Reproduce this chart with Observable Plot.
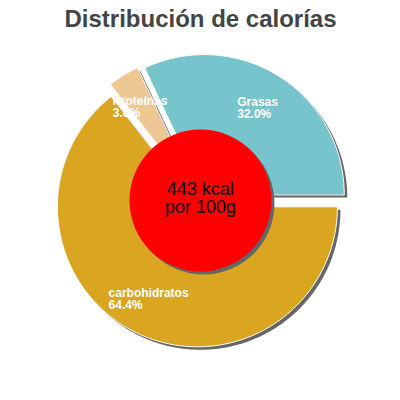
<!DOCTYPE html>
<html><head><meta charset="utf-8">
<script src="https://cdn.jsdelivr.net/npm/d3@7"></script>
<script src="https://cdn.jsdelivr.net/npm/@observablehq/plot@0.6"></script>
<style>body{margin:0;background:#fff}</style>
</head><body><div id="chart"></div>
<script>
const title = "Distribución de calorías";
const categories = ["carbohidratos", "Proteínas", "Grasas"];
const values = [64.4, 3.6, 32.0];
const colors = ["#daa520", "#eec894", "#78c4cc"];
const centerLines = ["443 kcal", "por 100g"];

const FONT = "Liberation Sans, Arial, sans-serif";
const xRange = [60, 340], yRange = [340, 60];
const pxPerUnit = (xRange[1] - xRange[0]) / 2;
const explode = 0.05, labelR = 0.735, letterSp = 0.6;

const pie = d3.pie().sort(null).startAngle(Math.PI / 2).endAngle(Math.PI / 2 + 2 * Math.PI)(values);

const slices = [];
const labels = [];
const ctx = document.createElement("canvas").getContext("2d");
ctx.font = "bold 12px " + FONT;
pie.forEach((p, i) => {
  const mid = (p.startAngle + p.endAngle) / 2;
  const ox = explode * Math.sin(mid), oy = explode * Math.cos(mid);
  slices.push({name: categories[i], x: ox, y: oy});
  const n = Math.max(2, Math.ceil((p.endAngle - p.startAngle) / (Math.PI / 180)));
  for (let k = 0; k <= n; k++) {
    const a = p.startAngle + (p.endAngle - p.startAngle) * k / n;
    slices.push({name: categories[i], x: ox + Math.sin(a), y: oy + Math.cos(a)});
  }
  const lines = [categories[i], values[i].toFixed(1) + "%"];
  const w = d3.max(lines, s => ctx.measureText(s).width + s.length * letterSp);
  const r = explode + labelR;
  labels.push({
    text: lines.join("\n"),
    x: r * Math.sin(mid) - (w / 2) / pxPerUnit,
    y: r * Math.cos(mid)
  });
});

const chart = Plot.plot({
  width: 400, height: 400, margin: 0,
  style: {fontFamily: FONT, background: "#fff"},
  x: {domain: [-1, 1], range: xRange, axis: null},
  y: {domain: [-1, 1], range: yRange, axis: null},
  color: {domain: categories, range: colors},
  marks: [
    Plot.line(slices, {x: "x", y: "y", z: "name", fill: "#666", stroke: "none", dx: 3, dy: 3, curve: "linear-closed"}),
    Plot.line(slices, {x: "x", y: "y", z: "name", fill: "name", stroke: "white", strokeWidth: 1, curve: "linear-closed"}),
    Plot.dot([0], {frameAnchor: "middle", r: 71, fill: "#666", stroke: "none", dx: 3, dy: 3}),
    Plot.dot([0], {frameAnchor: "middle", r: 71, fill: "#ff0000", stroke: "none"}),
    Plot.text([centerLines.join("\n")], {frameAnchor: "middle", text: d => d, fontSize: 18, fill: "black", lineHeight: 1, dy: -2}),
    Plot.text(labels, {x: "x", y: "y", text: "text", textAnchor: "start", fontSize: 12, fontWeight: "bold", fill: "white", lineHeight: 1, ariaLabel: "slice-labels"}),
    Plot.text([title], {frameAnchor: "top", lineAnchor: "top", text: d => d, dy: 9, fontSize: 24, fontWeight: "bold", fill: "#444"})
  ]
});
chart.querySelectorAll('g[aria-label="slice-labels"]').forEach(g => g.style.letterSpacing = letterSp + "px");
document.getElementById("chart").appendChild(chart);
</script>
</body></html>
